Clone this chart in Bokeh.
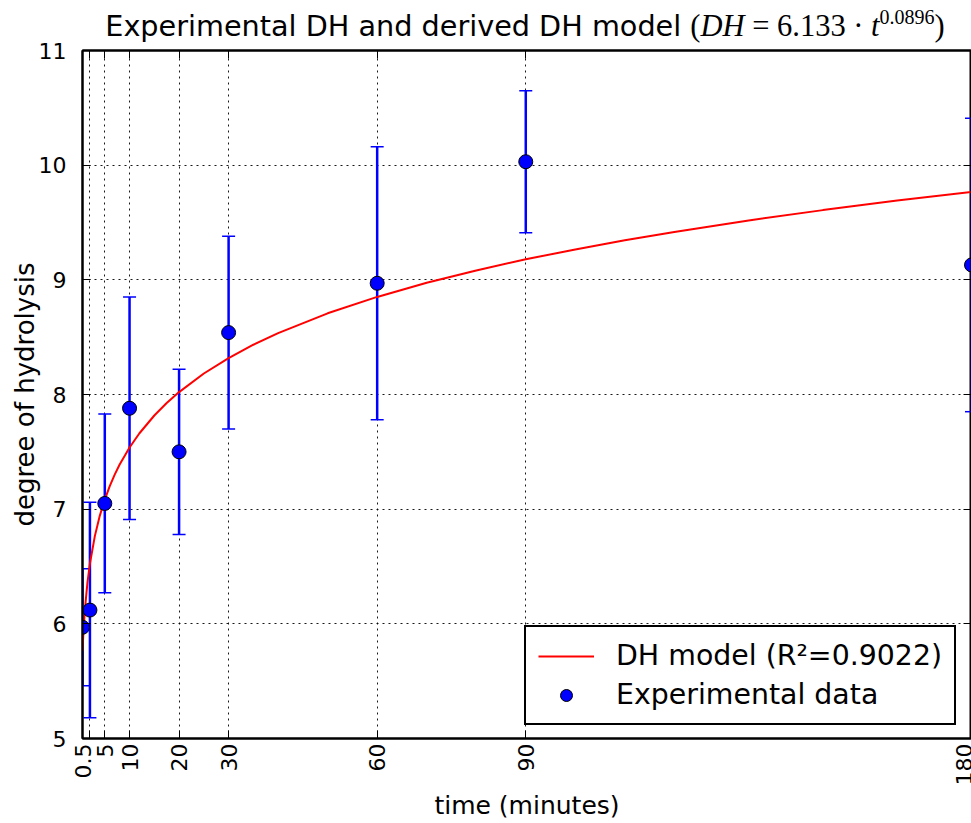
import math
from bokeh.plotting import figure
from bokeh.layouts import column
from bokeh.models import (Range1d, FixedTicker, Whisker, TeeHead, ColumnDataSource,
                          Legend, LegendItem, Div, LinearAxis, CustomJSTickFormatter)
from bokeh.embed import file_html
from bokeh.resources import INLINE

# ---- data ----
times = [0.5, 2, 5, 10, 20, 30, 60, 90, 180]
dh_mean = [5.97, 6.12, 7.05, 7.88, 7.50, 8.54, 8.97, 10.03, 9.13]
dh_err = [0.51, 0.94, 0.78, 0.97, 0.72, 0.84, 1.19, 0.62, 1.28]

# DH model curve (DH = 6.133 * t^0.0896)
model_t = [0.5, 0.75, 1, 1.5, 2, 3, 4, 5, 6, 7, 8, 10, 12, 15, 17.5, 20, 25, 30, 35, 40,
           50, 60, 70, 80, 90, 100, 110, 120, 135, 150, 165, 180]
model_dh = [5.764, 5.977, 6.133, 6.360, 6.526, 6.767, 6.944, 7.084, 7.201, 7.301, 7.389,
            7.538, 7.662, 7.817, 7.926, 8.021, 8.183, 8.318, 8.434, 8.535, 8.708, 8.851,
            8.974, 9.082, 9.179, 9.265, 9.345, 9.418, 9.518, 9.608, 9.691, 9.767]

x_ticks = [0.5, 2, 5, 10, 20, 30, 60, 90, 180]
x_tick_labels = ["0.5", "", "5", "10", "20", "30", "60", "90", "180"]
y_ticks = [5, 6, 7, 8, 9, 10, 11]
y_tick_labels = ["5", "6", "7", "8", "9", "10", "11"]

FONT = "DejaVu Sans"

p = figure(width=971, height=787, output_backend="svg", toolbar_location=None,
           x_range=Range1d(0.5, 180), y_range=Range1d(5, 11),
           min_border_left=82, min_border_right=0, min_border_top=14, min_border_bottom=85)
p.background_fill_color = "white"
p.border_fill_color = "white"
p.outline_line_color = "black"
p.outline_line_width = 2
p.outline_line_alpha = 1

# mirrored tick marks on top and right (no labels)
blank = CustomJSTickFormatter(code="return ''")
p.add_layout(LinearAxis(ticker=FixedTicker(ticks=x_ticks), formatter=blank), "above")
p.add_layout(LinearAxis(ticker=FixedTicker(ticks=y_ticks), formatter=blank), "right")
for ax in p.above + p.right:
    ax.major_tick_in = 8
    ax.major_tick_out = 0
    ax.minor_tick_line_color = None
    ax.major_label_standoff = 0
    ax.axis_line_color = "black"
    ax.axis_line_width = 2
    ax.major_tick_line_color = "black"

# axes
p.xaxis.ticker = FixedTicker(ticks=x_ticks)
p.yaxis.ticker = FixedTicker(ticks=y_ticks)
xa, ya = p.below[0], p.left[0]
xa.major_label_overrides = {t: l for t, l in zip(x_ticks, x_tick_labels)}
ya.major_label_overrides = {t: l for t, l in zip(y_ticks, y_tick_labels)}
xa.major_label_orientation = math.pi / 2
for ax in (xa, ya):
    ax.axis_line_color = "black"
    ax.axis_line_width = 2
    ax.major_tick_in = 8
    ax.major_tick_out = 0
    ax.major_tick_line_color = "black"
    ax.minor_tick_line_color = None
    ax.major_label_text_font = FONT
    ax.major_label_text_font_size = "22px"
    ax.major_label_text_color = "black"
    ax.axis_label_text_font = FONT
    ax.axis_label_text_font_style = "normal"
    ax.axis_label_text_color = "black"
xa.axis_label_text_font_size = "25px"
ya.axis_label_text_font_size = "26px"
xa.major_label_standoff = 5
ya.major_label_standoff = 16
xa.axis_label = "time (minutes)"
ya.axis_label = "degree of hydrolysis"
xa.axis_label_standoff = 3
ya.axis_label_standoff = -4

# grid
for g in (p.xgrid, p.ygrid):
    g.grid_line_color = "black"
    g.grid_line_dash = "2 4"
    g.grid_line_width = 1
    g.grid_line_alpha = 0.9

# error bars
src = ColumnDataSource(dict(
    x=times,
    y=dh_mean,
    upper=[m + e for m, e in zip(dh_mean, dh_err)],
    lower=[m - e for m, e in zip(dh_mean, dh_err)],
))
wh = Whisker(base="x", upper="upper", lower="lower", source=src,
             line_color="#0000ff", line_width=2.5,
             upper_head=TeeHead(size=13, line_color="#0000ff", line_width=1.5),
             lower_head=TeeHead(size=13, line_color="#0000ff", line_width=1.5))
p.add_layout(wh)

# model line
line_r = p.line(model_t, model_dh, line_color="#ff0000", line_width=2)

# points
pts_r = p.scatter("x", "y", source=src, size=14, fill_color="#0000ff",
                  line_color="black", line_width=1)

legend = Legend(items=[
    LegendItem(label="DH model (R²=0.9022)", renderers=[line_r]),
    LegendItem(label="Experimental data", renderers=[pts_r]),
], location=(442, 13))
legend.border_line_color = "black"
legend.border_line_width = 2
legend.border_line_alpha = 1
legend.background_fill_color = "white"
legend.background_fill_alpha = 1
legend.label_text_font = FONT
legend.label_text_font_size = "28.4px"
legend.label_text_color = "black"
legend.padding = 12
legend.spacing = 6
legend.glyph_width = 56
legend.glyph_height = 30
legend.label_height = 30
legend.label_standoff = 22
legend.margin = 0
p.add_layout(legend)

title_html = (
    "<div style=\"width:886px;margin-left:82px;text-align:center;white-space:nowrap;"
    "font-family:'DejaVu Sans';font-size:28.7px;line-height:36px;color:black;"
    "position:relative;top:8px;\">"
    "Experimental DH and derived DH model "
    "<span style=\"font-family:'Liberation Serif';font-size:30.5px;\">"
    "(<i>DH</i> = 6.133 · <i>t</i>"
    "<span style=\"font-size:20px;position:relative;top:-12px;\">0.0896</span>)"
    "</span></div>"
)
title_div = Div(text=title_html, width=971, height=36, margin=0,
                styles={"z-index": "10", "overflow": "visible", "position": "relative"})

layout = column(title_div, p, spacing=0)
open("out.html", "w").write(file_html(layout, INLINE))
